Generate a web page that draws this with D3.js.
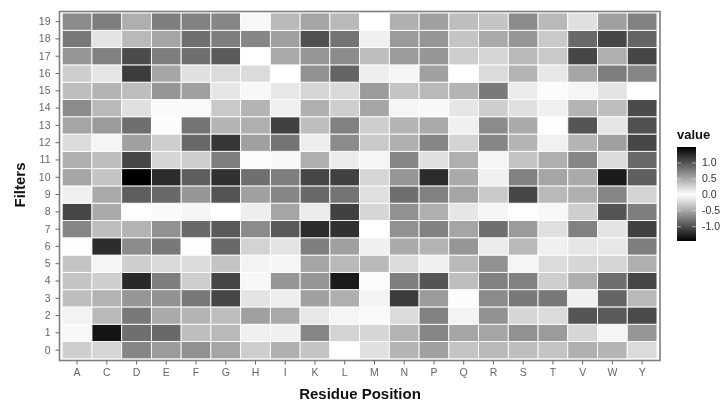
<!DOCTYPE html>
<html>
<head>
<meta charset="utf-8">
<script src="https://cdn.jsdelivr.net/npm/d3@7"></script>
<style>
  html, body { margin: 0; padding: 0; background: #fff; }
  #chart { width: 723px; height: 403px; overflow: hidden; }
  svg { display: block; font-family: "Liberation Sans", Arial, sans-serif; filter: blur(0.7px); }
</style>
</head>
<body>
<div id="chart"></div>
<script>
const residues = ["A","C","D","E","F","G","H","I","K","L","M","N","P","Q","R","S","T","V","W","Y"];
const filters = d3.range(0, 20);

// the colour scale is dark on both ends so the sign can't be read, magnitudes only
const filter0  = [.29,.25,.71,.59,.65,.53,.29,.47,.35,0,.18,.44,.56,.35,.41,.38,.35,.47,.44,.21];
const filter1  = [.04,1.38,.85,.88,.38,.41,.09,.09,.71,.26,.24,.44,.71,.53,.53,.65,.59,.24,.06,.62];
const filter2  = [.07,.41,.79,.50,.44,.38,.56,.50,.14,.06,.03,.21,.74,.07,.65,.24,.21,1.00,.97,1.06];
const filter3  = [.38,.44,.62,.65,.79,1.09,.16,.10,.56,.47,.07,1.15,.59,.02,.68,.79,.79,.09,.91,.41];
const filter4  = [.35,.29,1.26,.76,.29,1.09,.04,.62,.62,1.35,.02,.76,1.00,.38,.74,.74,.29,.47,.85,1.09];
const filter5  = [.35,.06,.29,.22,.21,.35,.07,.06,.53,.41,.41,.21,.09,.41,.65,.06,.21,.24,.25,.47];
const filter6  = [.01,1.24,.68,.79,.01,.88,.26,.16,.76,.56,.09,.50,.44,.62,.12,.41,.09,.15,.14,.76];
const filter7  = [.71,.38,.44,.65,.88,.97,.68,.97,1.24,1.21,0,.65,.74,.53,.85,.59,.19,.74,.16,1.12];
const filter8  = [1.09,.50,.01,.03,.06,0,.10,.53,.12,1.12,.24,.65,.47,.15,.06,.01,.04,.29,1.00,.76];
const filter9  = [.09,.50,.94,.88,.62,1.00,.56,.71,.88,.82,.18,.85,.74,.53,.32,1.09,.41,.47,.71,.26];
const filter10 = [.53,.35,1.50,1.24,.94,1.21,.85,.76,1.09,1.12,.24,.62,1.24,.50,.09,.74,.53,.50,1.35,.94];
const filter11 = [.47,.38,1.09,.24,.29,.76,.02,.04,.47,.12,.06,.71,.18,.47,.06,.35,.47,.71,.21,.88];
const filter12 = [.21,.06,.56,.29,.88,1.18,.56,.82,.10,.68,.32,.47,.71,.26,.71,.44,.08,.44,.56,1.08];
const filter13 = [.53,.59,.85,.02,.82,.44,.47,1.12,.38,.74,.29,.44,.50,.09,.68,.50,.01,1.00,.15,1.03];
const filter14 = [.68,.41,.18,.03,.03,.32,.44,.09,.47,.29,.53,.06,.04,.15,.29,.18,.09,.44,.38,1.06];
const filter15 = [.38,.44,.38,.62,.56,.15,.04,.14,.24,.22,.59,.35,.41,.44,.79,.12,.02,.06,.16,0];
const filter16 = [.29,.15,1.15,.53,.18,.21,.21,0,.65,.91,.10,.06,.56,0,.21,.44,.14,.53,.76,.71];
const filter17 = [.62,.74,1.06,.76,.85,.97,0,.50,.62,.68,.38,.59,.62,.29,.24,.41,.32,1.09,.47,1.09];
const filter18 = [.79,.16,.41,.53,.85,.76,.71,.56,1.03,.82,.09,.59,.62,.35,.50,.62,.32,.88,1.09,.91];
const filter19 = [.68,.76,.47,.76,.74,.71,.04,.41,.53,.41,0,.47,.56,.38,.35,.68,.41,.18,.56,.74];

const rows = [filter0,filter1,filter2,filter3,filter4,filter5,filter6,filter7,filter8,filter9,
  filter10,filter11,filter12,filter13,filter14,filter15,filter16,filter17,filter18,filter19];
const legendTicks = [-1.0, -0.5, 0.0, 0.5, 1.0];

const width = 723, height = 403;
const panel = {left: 59.5, right: 660, top: 11.5, bottom: 360.5};

const svg = d3.select("#chart").append("svg")
  .attr("width", width)
  .attr("height", height);

// scales
const x = d3.scaleBand().domain(residues).range([62.2, 657]).padding(0);
const y = d3.scaleBand().domain(filters).range([358.8, 13]).padding(0);
const color = d3.scaleLinear()
  .domain([-1.45, 0, 1.5])
  .range(["#000000", "#ffffff", "#000000"]);

// cells
const cells = [];
rows.forEach((vals, i) => vals.forEach((v, j) => cells.push({filter: filters[i], residue: residues[j], value: v})));

svg.append("g").selectAll("rect")
  .data(cells)
  .enter()
  .append("rect")
  .attr("x", d => x(d.residue))
  .attr("y", d => y(d.filter))
  .attr("width", x.bandwidth())
  .attr("height", y.bandwidth())
  .attr("fill", d => color(d.value))
  .attr("stroke", "#fff")
  .attr("stroke-width", 0.9);

// panel border
svg.append("rect")
  .attr("x", panel.left)
  .attr("y", panel.top)
  .attr("width", panel.right - panel.left)
  .attr("height", panel.bottom - panel.top)
  .attr("fill", "none")
  .attr("stroke", "#7f7f7f")
  .attr("stroke-width", 1.6);

// axes
const xAxis = svg.append("g")
  .attr("transform", `translate(0,${panel.bottom})`)
  .call(d3.axisBottom(x).tickSize(4).tickPadding(4));
const yAxis = svg.append("g")
  .attr("transform", `translate(${panel.left},0)`)
  .call(d3.axisLeft(y).tickSize(4).tickPadding(5));

[xAxis, yAxis].forEach(a => {
  a.select(".domain").remove();
  a.selectAll(".tick line").attr("stroke", "#666");
  a.selectAll(".tick text")
    .attr("fill", "#666")
    .style("font-family", '"Liberation Sans", Arial, sans-serif')
    .style("font-size", "10.5px");
});

// axis titles
svg.append("text")
  .attr("x", 360)
  .attr("y", 399)
  .attr("text-anchor", "middle")
  .attr("font-weight", "bold")
  .attr("font-size", 15)
  .attr("fill", "#111")
  .text("Residue Position");

svg.append("text")
  .attr("transform", "translate(25,185) rotate(-90)")
  .attr("text-anchor", "middle")
  .attr("font-weight", "bold")
  .attr("font-size", 15)
  .attr("fill", "#111")
  .text("Filters");

// legend
const legend = {x: 677, w: 19, top: 147, bottom: 241};
const legendY = d3.scaleLinear().domain([-1.45, 1.5]).range([legend.bottom, legend.top]);

const gradient = svg.append("defs").append("linearGradient")
  .attr("id", "legend-grad")
  .attr("x1", 0).attr("x2", 0).attr("y1", 1).attr("y2", 0);
gradient.selectAll("stop")
  .data(d3.range(0, 1.0001, 0.05))
  .enter()
  .append("stop")
  .attr("offset", d => d)
  .attr("stop-color", d => color(-1.45 + d * 2.95));

svg.append("rect")
  .attr("x", legend.x)
  .attr("y", legend.top)
  .attr("width", legend.w)
  .attr("height", legend.bottom - legend.top)
  .attr("fill", "url(#legend-grad)");

const legendG = svg.append("g");
legendG.selectAll("text")
  .data(legendTicks)
  .enter()
  .append("text")
  .attr("x", 702)
  .attr("y", d => legendY(d) + 3.5)
  .attr("font-size", 10.5)
  .attr("fill", "#333")
  .text(d => d.toFixed(1));

legendTicks.forEach(t => {
  [[legend.x, legend.x + 4], [legend.x + legend.w - 4, legend.x + legend.w]].forEach(p => {
    legendG.append("line")
      .attr("x1", p[0]).attr("x2", p[1])
      .attr("y1", legendY(t)).attr("y2", legendY(t))
      .attr("stroke", "#fff")
      .attr("stroke-width", 0.5);
  });
});

svg.append("text")
  .attr("x", 677)
  .attr("y", 139)
  .attr("font-weight", "bold")
  .attr("font-size", 13)
  .attr("fill", "#111")
  .text("value");
</script>
</body>
</html>
